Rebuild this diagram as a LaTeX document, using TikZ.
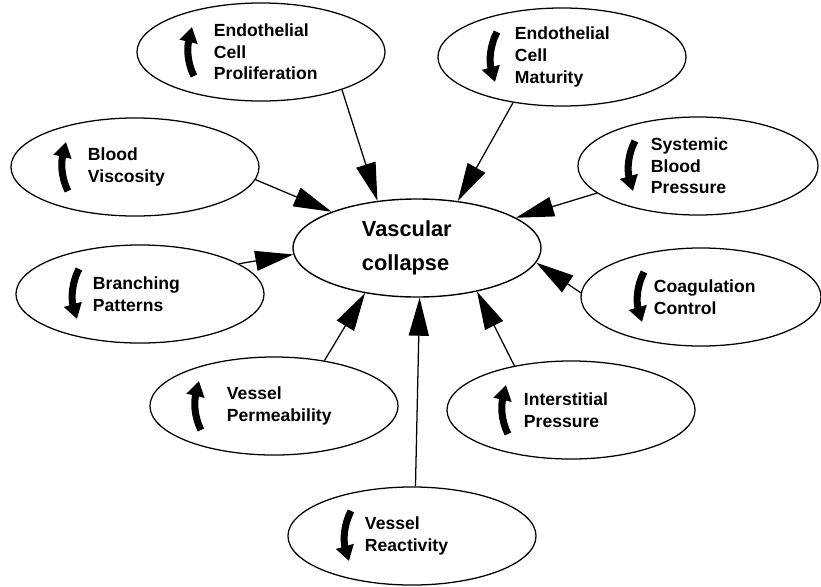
\documentclass[tikz,border=0pt]{standalone}
\usepackage{fontspec}
\setsansfont{Liberation Sans}
\usetikzlibrary{arrows.meta,shapes.geometric,calc}
\tikzset{
  blob/.style={ellipse, draw=black, line width=0.9pt, minimum width=6.2cm,
    minimum height=2.45cm, inner sep=0pt, text width=2.35cm, align=left,
    font=\sffamily\bfseries\fontsize{12.5}{15.4}\selectfont},
  hub/.style={ellipse, draw=black, line width=1pt, minimum width=6.2cm,
    minimum height=2.45cm, inner sep=0pt, text width=2.75cm, align=left,
    font=\sffamily\bfseries\fontsize{15.5}{24}\selectfont},
  feed/.style={-{Triangle[length=0.95cm, width=0.5cm]}, line width=0.9pt},
  glyph/.style={-{Triangle[length=0.38cm, width=0.44cm]}, line width=5pt},
  rise/.pic={\draw[glyph] (3,24) .. controls (-4,10) and (-4,-4) .. (1,-25);},
  fall/.pic={\draw[glyph] (3,-25) .. controls (-4,-12) and (-5,4) .. (1,25);},
}
\begin{document}
\begin{tikzpicture}[x=0.025cm, y=-0.025cm]
  \useasboundingbox (0,0) rectangle (821,586);
  % centre
  \node[hub] (vc) at (417,248) {Vascular\\collapse};
  % surrounding factors
  \node[blob] (epro) at (261,52) {Endothelial\\Cell\\Proliferation};
  \node[blob] (emat) at (562,57) {Endothelial\\Cell\\Maturity};
  \node[blob] (visc) at (135,167) {Blood\\Viscosity};
  \node[blob, minimum width=6cm] (sbp) at (698,166) {Systemic\\Blood\\Pressure};
  \node[blob] (branch) at (140,294) {Branching\\Patterns};
  \node[blob, minimum width=6cm] (coag) at (701,297) {Coagulation\\Control};
  \node[blob] (perm) at (274,406) {Vessel\\Permeability};
  \node[blob] (inter) at (571,410) {Interstitial\\Pressure};
  \node[blob] (react) at (412,536) {Vessel\\Reactivity};
  % up / down marks
  \pic at ($(epro)+(-70,0)$) {rise};
  \pic at ($(emat)+(-68,0)$) {fall};
  \pic at ($(visc)+(-70,0)$) {rise};
  \pic at ($(sbp)+(-66,0)$) {fall};
  \pic at ($(branch)+(-64,0)$) {fall};
  \pic at ($(coag)+(-60,0)$) {fall};
  \pic at ($(perm)+(-76,0)$) {rise};
  \pic at ($(inter)+(-66,0)$) {rise};
  \pic at ($(react)+(-64,0)$) {fall};
  % arrows into the centre
  \draw[feed] (epro.335) -- (vc.130);
  \draw[feed] (emat.223) -- (vc.49);
  \draw[feed] (visc.354) -- (vc.157);
  \draw[feed] (sbp.195) -- (vc.17);
  \draw[feed] (branch.17) -- (vc.183);
  \draw[feed] (coag.178) -- (vc.353);
  \draw[feed] (perm.42) -- (vc.221);
  \draw[feed] (inter.142) -- (vc.324);
  \draw[feed] (react.86) -- (vc.273.5);
\end{tikzpicture}
\end{document}
